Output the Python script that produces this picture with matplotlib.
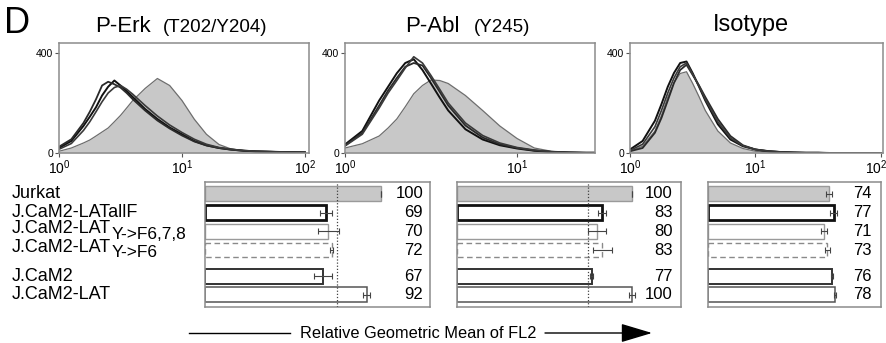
import matplotlib
matplotlib.use("Agg")
import matplotlib.pyplot as plt
from matplotlib.lines import Line2D
import matplotlib.transforms as mtransforms

plt.rcParams["font.family"] = ["Liberation Sans", "DejaVu Sans"]
plt.rcParams["mathtext.fontset"] = "custom"
plt.rcParams["mathtext.rm"] = "Liberation Sans"
plt.rcParams["mathtext.default"] = "rm"

W, H = 887, 343

# --- histogram data: FL2 intensity vs. event count ---
fl2 = [1.00, 1.26, 1.58, 1.78, 2.00, 2.24, 2.51, 2.82, 3.16, 3.55, 3.98,
       5.01, 6.31, 7.94, 10.0, 12.6, 15.8, 20.0, 25.1, 31.6, 39.8, 63.1, 100.0]

erk_jurkat = [7, 20, 40, 52, 68, 84, 100, 125, 150, 180, 210,
              258, 298, 270, 210, 135, 75, 34, 16, 10, 5, 3, 1]
erk_mut_a = [20, 48, 108, 145, 183, 230, 265, 290, 270, 248, 224,
             176, 136, 102, 75, 48, 31, 20, 14, 9, 7, 4, 3]
erk_mut_b = [25, 55, 120, 165, 215, 270, 285, 275, 262, 240, 215,
             170, 130, 98, 70, 46, 30, 20, 13, 9, 6, 4, 2]
erk_mut_c = [15, 38, 90, 125, 165, 205, 240, 262, 270, 255, 235,
             190, 148, 112, 82, 55, 35, 22, 15, 10, 7, 4, 2]

abl_jurkat = [20, 37, 68, 100, 136, 185, 237, 270, 292, 290, 278,
              230, 170, 108, 58, 20, 7, 3, 1, 1, 0, 0, 0]
abl_mut_a = [34, 88, 210, 265, 319, 360, 375, 332, 278, 222, 170,
             95, 54, 31, 18, 9, 4, 2, 1, 1, 0, 0, 0]
abl_mut_b = [30, 80, 190, 250, 300, 345, 360, 350, 300, 245, 190,
             110, 62, 35, 20, 10, 5, 2, 1, 1, 0, 0, 0]
abl_mut_c = [28, 75, 180, 240, 290, 340, 385, 360, 310, 255, 200,
             120, 70, 40, 22, 12, 5, 2, 1, 1, 0, 0, 0]

iso_jurkat = [7, 27, 88, 150, 223, 280, 318, 325, 278, 225, 170,
              88, 40, 18, 7, 4, 3, 2, 1, 1, 0, 0, 0]
iso_mut_a = [14, 48, 129, 195, 265, 320, 360, 366, 319, 265, 210,
             115, 54, 27, 14, 7, 4, 2, 1, 1, 0, 0, 0]
iso_mut_b = [7, 20, 81, 140, 210, 280, 332, 353, 312, 270, 224,
             136, 68, 31, 14, 8, 4, 2, 1, 1, 0, 0, 0]
iso_mut_c = [10, 35, 105, 170, 240, 300, 345, 360, 315, 268, 215,
             125, 60, 29, 14, 7, 4, 2, 1, 1, 0, 0, 0]

# --- bar data: relative geometric mean of FL2 ---
cell_lines = ["Jurkat", "J.CaM2-LATallF", "J.CaM2-LAT", "J.CaM2-LAT", "J.CaM2", "J.CaM2-LAT"]
subscripts = ["", "", "Y->F6,7,8", "Y->F6", "", ""]
erk_values = [100, 69, 70, 72, 67, 92]
erk_err = [0, 3.4, 6, 1, 5, 2]
abl_values = [100, 83, 80, 83, 77, 100]
abl_err = [0, 2.3, 5.4, 5.5, 0.8, 1.6]
iso_values = [74, 77, 71, 73, 76, 78]
iso_err = [1.7, 2, 1.7, 1.5, 0.5, 0.5]

SPINE = "#8c8c8c"


def px_axes(fig, left, right, top, bottom):
    return fig.add_axes([left / W, 1 - bottom / H, (right - left) / W, (bottom - top) / H])


def hist_panel(ax, jurkat, others, xmax, xticks):
    ax.fill_between(fl2, 0, jurkat, color="#c8c8c8", lw=0)
    ax.plot(fl2, jurkat, color="#6e6e6e", lw=0.9)
    for y, c, lw in zip(others, ["#111111", "#2a2a2a", "#3a3a3a"], [1.4, 1.3, 1.2]):
        ax.plot(fl2, y, color=c, lw=lw)
    ax.set_xscale("log")
    ax.set_xlim(1, xmax)
    ax.set_ylim(0, 440)
    ax.set_yticks([0, 400])
    ax.set_yticklabels(["0", "400"], fontsize=7.5)
    ax.set_xticks(xticks)
    ax.set_xticklabels([r"$10^{%d}$" % i for i in range(len(xticks))], fontsize=10)
    ax.xaxis.set_minor_locator(plt.NullLocator())
    ax.tick_params(length=3, width=0.8, color="#555555", pad=1)
    for s in ax.spines.values():
        s.set_color(SPINE)
        s.set_linewidth(1.1)


def bar_panel(ax, values, err, xmax, ref=None, label_x=0.965):
    rows = [0, 1, 2, 3, 4.4, 5.4]
    styles = [
        dict(fc="#c8c8c8", ec="#9a9a9a", lw=1.0, ls="-"),
        dict(fc="white", ec="#111111", lw=2.0, ls="-"),
        dict(fc="white", ec="#9a9a9a", lw=1.0, ls="-"),
        dict(fc="white", ec="#8a8a8a", lw=1.0, ls=(0, (4, 2.5))),
        dict(fc="white", ec="#333333", lw=1.4, ls="-"),
        dict(fc="white", ec="#555555", lw=1.1, ls="-"),
    ]
    for r, v, st in zip(rows, values, styles):
        ax.barh(r, v, height=0.8, color=st["fc"], edgecolor=st["ec"],
                linewidth=st["lw"], linestyle=st["ls"], zorder=2)
    ax.errorbar(values, rows, xerr=err, fmt="none", ecolor="#444444",
                elinewidth=0.8, capsize=2, capthick=0.8, zorder=3)
    if ref is not None:
        ax.axvline(ref, color="#444444", lw=0.9, ls=(0, (1, 1.5)), zorder=4)
    tr = mtransforms.blended_transform_factory(ax.transAxes, ax.transData)
    for r, v in zip(rows, values):
        ax.text(label_x, r, str(v), transform=tr, ha="right", va="center", fontsize=12)
    ax.set_xlim(0, xmax)
    ax.set_ylim(6.05, -0.64)
    ax.set_xticks([])
    ax.set_yticks([])
    for s in ax.spines.values():
        s.set_color(SPINE)
        s.set_linewidth(1.1)
    return rows


fig = plt.figure(figsize=(W / 100, H / 100), dpi=100)

h1 = px_axes(fig, 59, 309, 43, 153)
hist_panel(h1, erk_jurkat, [erk_mut_a, erk_mut_b, erk_mut_c], 10 ** 2.033, [1, 10, 100])
h2 = px_axes(fig, 345, 595, 43, 153)
hist_panel(h2, abl_jurkat, [abl_mut_a, abl_mut_b, abl_mut_c], 10 ** 1.453, [1, 10])
h3 = px_axes(fig, 630, 883, 43, 153)
hist_panel(h3, iso_jurkat, [iso_mut_a, iso_mut_b, iso_mut_c], 10 ** 2.016, [1, 10, 100])
# the last decade label sits at the right edge of the figure; nudge it inside
last = h3.get_xticklabels()[-1]
last.set_horizontalalignment("right")
last.set_transform(last.get_transform() + mtransforms.ScaledTranslation(6 / 100, 0, fig.dpi_scale_trans))

b1 = px_axes(fig, 205, 430, 182, 307)
rows = bar_panel(b1, erk_values, erk_err, 128, ref=75, label_x=0.969)
b2 = px_axes(fig, 457, 681, 182, 307)
bar_panel(b2, abl_values, abl_err, 128, ref=75, label_x=0.964)
b3 = px_axes(fig, 708, 881, 182, 307)
bar_panel(b3, iso_values, iso_err, 106, label_x=0.948)

# row labels at the far left
lab_tr = mtransforms.blended_transform_factory(fig.transFigure, b1.transData)
for r, name, sub in zip(rows, cell_lines, subscripts):
    if sub:
        t = b1.text(12 / W, r - 0.15, name, transform=lab_tr, ha="left", va="center",
                    fontsize=13, clip_on=False)
        b1.annotate(sub, xy=(1, 0.5), xycoords=t, xytext=(0, -4), textcoords="offset points",
                    ha="left", va="center", fontsize=12.5, annotation_clip=False)
    else:
        b1.text(12 / W, r, name, transform=lab_tr, ha="left", va="center",
                fontsize=13, clip_on=False)

# panel titles
fig.text(4 / W, 1 - 33 / H, "D", fontsize=26, ha="left", va="baseline")
fig.text(95 / W, 1 - 32 / H, "P-Erk", fontsize=16, ha="left", va="baseline")
fig.text(163 / W, 1 - 32 / H, "(T202/Y204)", fontsize=13.5, ha="left", va="baseline")
fig.text(405 / W, 1 - 32 / H, "P-Abl", fontsize=16, ha="left", va="baseline")
fig.text(474 / W, 1 - 32 / H, "(Y245)", fontsize=13.5, ha="left", va="baseline")
fig.text(713 / W, 1 - 31 / H, "Isotype", fontsize=17, ha="left", va="baseline")

# x-axis label with arrow
ya = 1 - 333 / H
fig.add_artist(Line2D([189 / W, 290 / W], [ya, ya], color="black", lw=1.0))
fig.text(418 / W, ya, "Relative Geometric Mean of FL2", fontsize=11.8, ha="center", va="center")
b2.annotate("", xy=(652 / W, ya), xycoords="figure fraction",
            xytext=(545 / W, ya), textcoords="figure fraction", annotation_clip=False,
            arrowprops=dict(arrowstyle="-|>,head_length=1.5,head_width=0.45",
                            color="black", lw=1.0, mutation_scale=13,
                            shrinkA=0, shrinkB=0))

fig.savefig("out.png", dpi=100)
